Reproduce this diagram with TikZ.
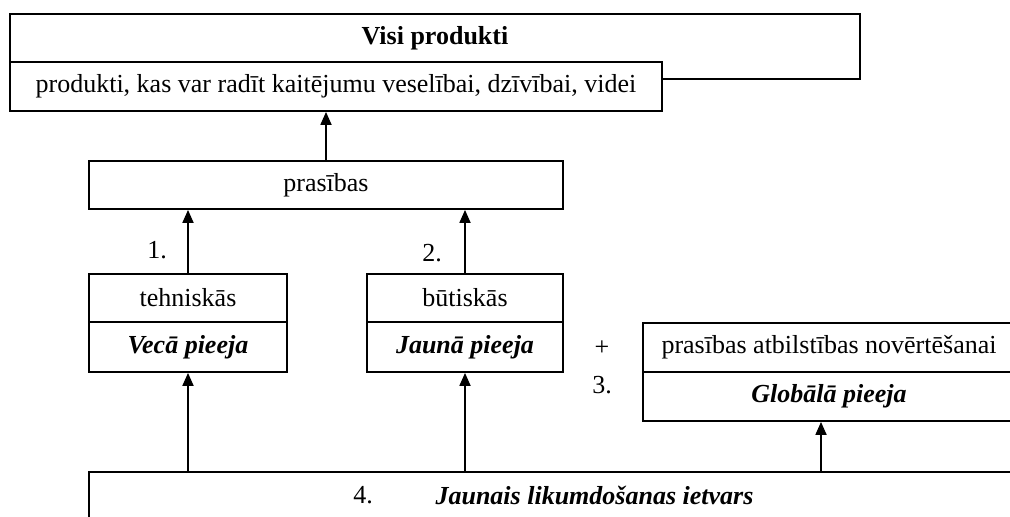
\documentclass[tikz,border=0pt]{standalone}
\usepackage{fontspec}
\setmainfont{Liberation Serif}
\usetikzlibrary{shapes, arrows.meta, positioning}

\tikzset{
  block/.style={draw, rectangle, fill=white, inner sep=0pt, minimum height=24pt},
  lbl/.style={inner sep=0pt},
}

\begin{document}
\begin{tikzpicture}[x=0.5pt, y=-0.5pt, line width=0.9pt, >={Triangle[width=5.5pt,length=6.5pt]}, font=\fontsize{13}{15.5}\selectfont]
        \useasboundingbox (0,0) rectangle (1010,516);
        \clip (0,0) rectangle (1010,516);

        % Draw the blocks
        \node (visi)     [block, minimum width=425pt, minimum height=32.5pt] at (435,46.5) {};
        \node (visiname) [lbl] at (435,38) {\textbf{Visi produkti}};
        \node (kaitigi)  [block, minimum width=326pt, minimum height=24.5pt] at (336,86.5) {produkti, kas var radīt kaitējumu veselībai, dzīvībai, videi};
        \node (prasibas) [block, minimum width=237pt] at (326,185) {prasības};

        \node (tehn)     [block, minimum width=99pt] at (188,298) {tehniskās};
        \node (veca)     [block, minimum width=99pt, minimum height=25pt] at (188,347) {\textbf{\textit{Vecā pieeja}}};
        \node (but)      [block, minimum width=98pt] at (465,298) {būtiskās};
        \node (jauna)    [block, minimum width=98pt, minimum height=25pt] at (465,347) {\textbf{\textit{Jaunā pieeja}}};

        \node (atbilst)  [block, minimum width=186pt, minimum height=24.5pt] at (829,347.5) {prasības atbilstības novērtēšanai};
        \node (globala)  [block, minimum width=186pt, minimum height=24.5pt] at (829,396.5) {\textbf{\textit{Globālā pieeja}}};

        \node (ietvars)  [block, minimum width=505.5pt, minimum height=23pt] at (594.5,495) {\textbf{\textit{Jaunais likumdošanas ietvars}}};

        % Add the numbers
        \node (one)   [lbl] at (157,250) {1.};
        \node (two)   [lbl] at (432,253) {2.};
        \node (plus)  [lbl] at (602,348) {+};
        \node (three) [lbl] at (602,385) {3.};
        \node (four)  [lbl] at (363,495) {4.};

        % Draw the connecting arrows
        \draw [->] (prasibas.north) -- (prasibas.north |- kaitigi.south);
        \draw [->] (tehn.north) -- (tehn.north |- prasibas.south);
        \draw [->] (but.north) -- (but.north |- prasibas.south);
        \draw [->] (veca.south |- ietvars.north) -- (veca.south);
        \draw [->] (jauna.south |- ietvars.north) -- (jauna.south);
        \draw [->] ([xshift=-4pt]globala.south |- ietvars.north) -- ([xshift=-4pt]globala.south);
    \end{tikzpicture}
\end{document}
